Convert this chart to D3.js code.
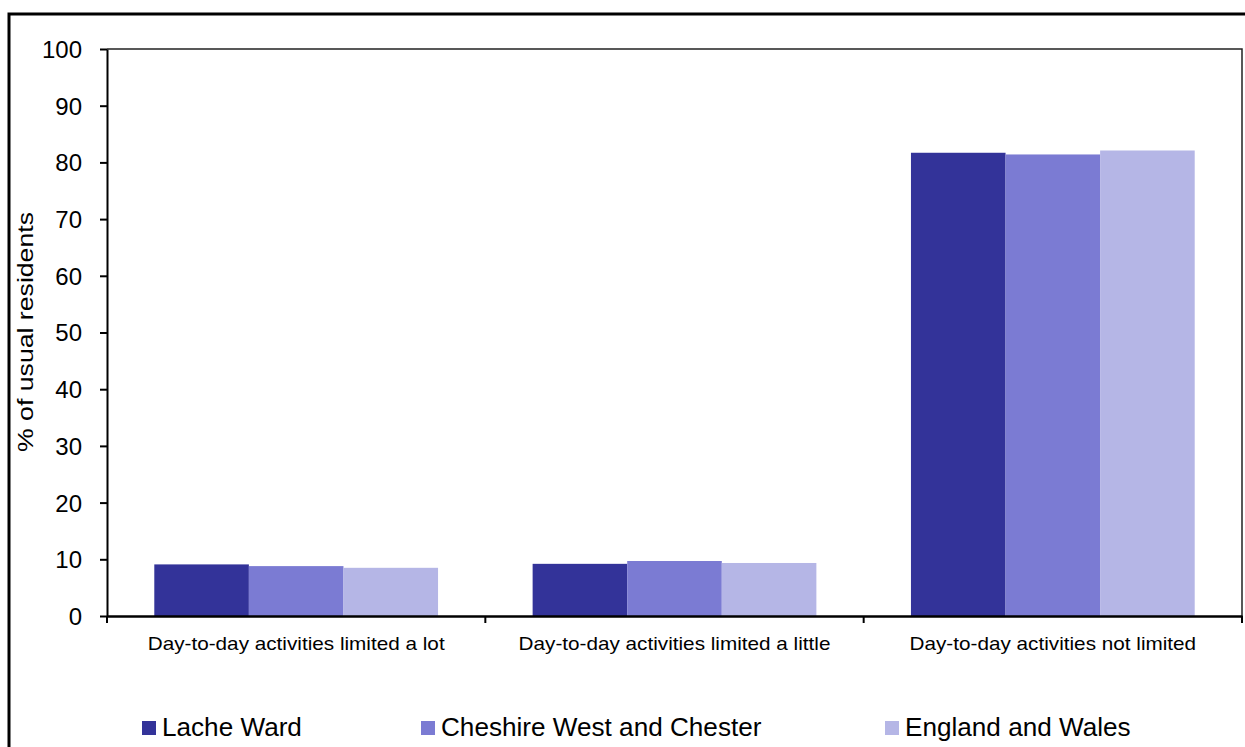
<!DOCTYPE html>
<html>
<head>
<meta charset="utf-8">
<script src="https://cdn.jsdelivr.net/npm/d3@7"></script>
<style>
  body { margin: 0; background: #fff; }
  text { font-family: "Liberation Sans", Arial, sans-serif; fill: #000; }
</style>
</head>
<body>
<div id="chart"></div>
<script>
// data
const categories = ["Day-to-day activities limited a lot", "Day-to-day activities limited a little", "Day-to-day activities not limited"];
const seriesNames = ["Lache Ward", "Cheshire West and Chester", "England and Wales"];
const lacheWard = [9.1, 9.2, 81.7];
const cheshireWest = [8.8, 9.7, 81.4];
const englandWales = [8.5, 9.35, 82.1];
const yTicks = [0, 10, 20, 30, 40, 50, 60, 70, 80, 90, 100];
const colors = ["#333399", "#7b7bd3", "#b5b6e6"];

const values = [lacheWard, cheshireWest, englandWales];

const W = 1245, H = 747;
const margin = {top: 49, right: 3, bottom: 131, left: 107},
      width = W - margin.left - margin.right,
      height = H - margin.top - margin.bottom;

const root = d3.select("#chart").append("svg")
    .attr("width", W)
    .attr("height", H);

// outer frame (runs off the right and bottom edge)
root.append("rect")
    .attr("x", 9).attr("y", 14)
    .attr("width", W + 20).attr("height", H + 20)
    .attr("fill", "none")
    .attr("stroke", "#000")
    .attr("stroke-width", 3);

const svg = root.append("g")
    .attr("transform", `translate(${margin.left}, ${margin.top})`);

const x = d3.scaleBand().domain(categories).range([0, width]).padding(0);
const xs = d3.scaleBand().domain(seriesNames).range([0, x.bandwidth()])
    .paddingInner(0).paddingOuter(0.5);
const y = d3.scaleLinear().domain([0, 100]).range([height, 0]);

// the picture's text is a bit wider than the font: stretch it
function stretch(sel, k) {
  sel.each(function () {
    const len = this.getComputedTextLength();
    d3.select(this).attr("textLength", len * k).attr("lengthAdjust", "spacingAndGlyphs");
  });
}

// plot area top/right border
svg.append("path")
    .attr("d", `M0,${y(100)}H${width}V${height}`)
    .attr("fill", "none")
    .attr("stroke", "#222")
    .attr("stroke-width", 1.5);

// bars
const rows = [];
categories.forEach((c, i) => seriesNames.forEach((s, j) => rows.push({cat: c, s: s, v: values[j][i], j: j})));
svg.append("g")
    .selectAll("rect")
    .data(rows)
    .join("rect")
    .attr("x", d => x(d.cat) + xs(d.s))
    .attr("y", d => y(d.v))
    .attr("width", xs.bandwidth())
    .attr("height", d => y(0) - y(d.v))
    .attr("fill", d => colors[d.j]);

// Y axis
const yAxis = svg.append("g")
    .call(d3.axisLeft(y).tickValues(yTicks).tickSize(7).tickSizeOuter(0).tickPadding(18));
yAxis.selectAll("path, line").attr("stroke", "#000").attr("stroke-width", 2);
yAxis.selectAll("text").style("font-size", "24px").attr("dy", "0.35em");

// X axis: labels under each group, ticks on the group edges
const xAxis = svg.append("g")
    .attr("transform", `translate(0, ${height})`)
    .call(d3.axisBottom(x).tickSize(0).tickPadding(21));
xAxis.select(".domain").attr("stroke", "#000").attr("stroke-width", 2.5);
xAxis.selectAll("text").style("font-size", "19px").attr("dy", "0.71em").call(stretch, 1.09);

const edges = [0].concat(categories.map(c => x(c) + x.bandwidth()));
svg.append("g")
    .selectAll("line")
    .data(edges)
    .join("line")
    .attr("x1", d => d).attr("x2", d => d)
    .attr("y1", height).attr("y2", height + 7)
    .attr("stroke", "#000")
    .attr("stroke-width", 2);

// y axis label
svg.append("text")
    .attr("transform", `translate(${25 - margin.left}, ${332 - margin.top}) rotate(-90)`)
    .attr("text-anchor", "middle")
    .attr("dy", "0.35em")
    .attr("textLength", 240).attr("lengthAdjust", "spacingAndGlyphs")
    .style("font-size", "22px")
    .text("% of usual residents");

// legend
const legendX = [142, 421, 885];
const legend = root.append("g")
    .selectAll("g")
    .data(seriesNames)
    .join("g")
    .attr("transform", (d, i) => `translate(${legendX[i]}, 721)`);
legend.append("rect")
    .attr("width", 14).attr("height", 14)
    .attr("fill", (d, i) => colors[i]);
legend.append("text")
    .attr("x", 20)
    .attr("y", 15)
    .style("font-size", "25px")
    .text(d => d)
    .call(stretch, 1.045);
</script>
</body>
</html>
